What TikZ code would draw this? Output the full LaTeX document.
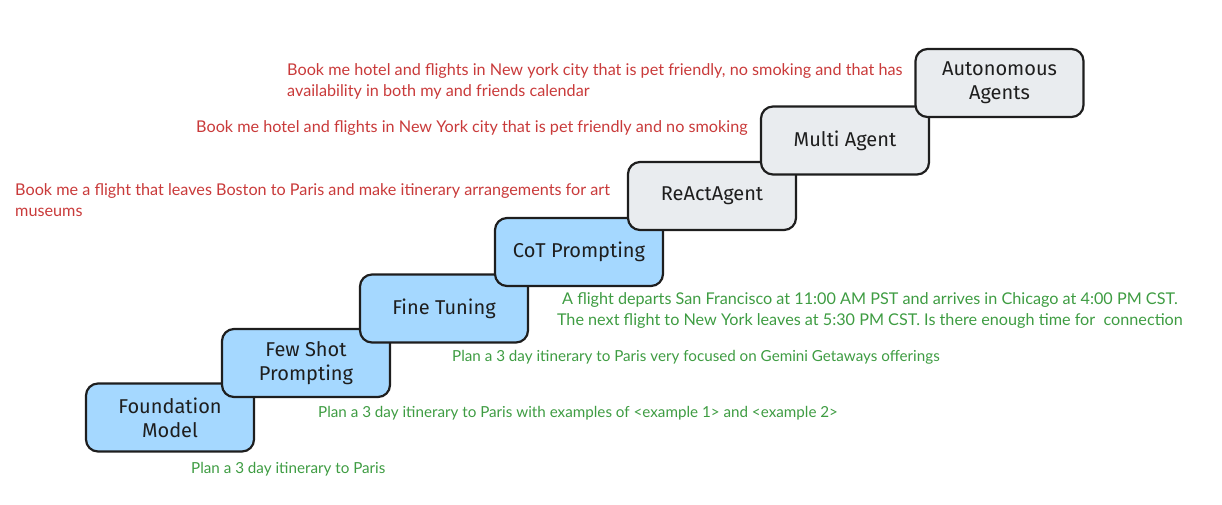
\documentclass[tikz,border=0pt]{standalone}
\usepackage{fontspec}
\setmainfont{Lato}
\newfontfamily\stepfont{Fira Sans}
\usepackage{tikz}
\usetikzlibrary{positioning}

\definecolor{stepblue}{HTML}{A5D8FF}
\definecolor{stepgray}{HTML}{E9ECEF}
\definecolor{stepline}{HTML}{1E1E1E}
\definecolor{asktext}{RGB}{201,58,58}
\definecolor{plantext}{RGB}{62,156,66}

\begin{document}
\begin{tikzpicture}[
    x=1pt, y=-1pt,
    stage/.style={rectangle, rounded corners=12pt, draw=stepline, line width=2.2pt,
      minimum width=168pt, minimum height=68pt, align=center, inner sep=4pt,
      font=\stepfont\fontsize{20}{24}\selectfont, text=stepline},
    basic/.style={stage, fill=stepblue},
    agentic/.style={stage, fill=stepgray},
    ask/.style={text=asktext, align=left, inner sep=0pt, font=\fontsize{16.2}{21}\selectfont},
    plan/.style={text=plantext, align=center, inner sep=0pt, font=\fontsize{15.2}{21}\selectfont}
  ]
    \useasboundingbox (0,0) rectangle (1222,504);
    % staircase, each step drawn over the one before
    \node[basic] (found) at (170,417.5) {Foundation\\Model};
    \node[basic] (few) at (306,363) {Few Shot\\Prompting};
    \node[basic] (fine) at (444,308.5) {Fine Tuning};
    \node[basic] (cot) at (579,252) {CoT Prompting};
    \node[agentic] (react) at (712,196) {ReActAgent};
    \node[agentic] (multi) at (845,140.5) {Multi Agent};
    \node[agentic] (auto) at (999.5,83) {Autonomous\\Agents};
    % example prompts
    \node[ask, anchor=north west] (askauto) at (287,63) {Book me hotel and flights in New york city that is pet friendly, no smoking and that has\\availability in both my and friends calendar};
    \node[ask, anchor=west] (askmulti) at (196,128) {Book me hotel and flights in New York city that is pet friendly and no smoking};
    \node[ask, anchor=north west] (askreact) at (15,183) {Book me a flight that leaves Boston to Paris and make itinerary arrangements for art\\museums};
    \node[plan, anchor=north east, font=\fontsize{16.2}{21}\selectfont] (plancot) at (1183,292) {A flight departs San Francisco at 11:00 AM PST and arrives in Chicago at 4:00 PM CST.\\The next flight to New York leaves at 5:30 PM CST. Is there enough time for\ \ connection};
    \node[plan, anchor=west] (planfine) at (452,357) {Plan a 3 day itinerary to Paris very focused on Gemini Getaways offerings};
    \node[plan, anchor=west] (planfew) at (318,413) {Plan a 3 day itinerary to Paris with examples of <example 1> and <example 2>};
    \node[plan, anchor=west] (planfound) at (191,469) {Plan a 3 day itinerary to Paris};
\end{tikzpicture}
\end{document}
